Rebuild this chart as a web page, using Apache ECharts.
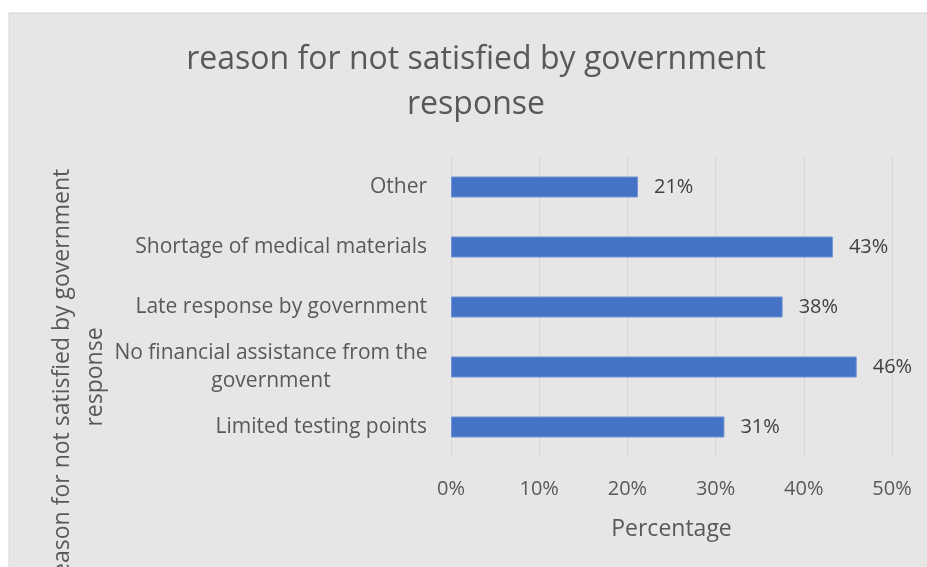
<!DOCTYPE html>
<html>
<head>
<meta charset="utf-8">
<script src="https://cdn.jsdelivr.net/npm/echarts@6/dist/echarts.min.js"></script>
<style>
  html, body { margin: 0; padding: 0; background: #fff; }
  #chart { width: 927px; height: 567px; }
</style>
</head>
<body>
<div id="chart"></div>
<script>
// categories listed bottom to top, like the picture
const categories = [
  'Limited testing points',
  'No financial assistance from the government',
  'Late response by government',
  'Shortage of medical materials',
  'Other'
]
const percentValues = [31.0, 46.0, 37.6, 43.3, 21.2]
const xTicks = [0, 10, 20, 30, 40, 50]

const FONT = 'Open Sans'
const textGrey = '#595959'

const chart = echarts.init(document.getElementById('chart'))
chart.setOption({
  backgroundColor: '#fff',
  animation: false,
  graphic: [
    { // grey chart area
      type: 'rect',
      z: -10,
      shape: { x: 9, y: 13, width: 930, height: 560 },
      style: { fill: '#e6e6e6', stroke: '#d4d4d4', lineWidth: 1 }
    },
    { // chart title
      type: 'text',
      x: 476,
      y: 82,
      style: {
        text: 'reason for not satisfied by government\nresponse',
        fontFamily: FONT,
        fontSize: 32,
        lineHeight: 45,
        fill: textGrey,
        align: 'center',
        verticalAlign: 'middle'
      }
    },
    { // y axis title, cut off at the left as in the picture
      type: 'text',
      x: 79,
      y: 377,
      rotation: Math.PI / 2,
      style: {
        text: 'reason for not satisfied by government\nresponse',
        fontFamily: FONT,
        fontSize: 23,
        lineHeight: 33,
        fill: textGrey,
        align: 'center',
        verticalAlign: 'middle'
      }
    }
  ],
  grid: { left: 451, right: 35, top: 157, bottom: 110 },
  xAxis: {
    type: 'value',
    min: xTicks[0],
    max: xTicks[xTicks.length - 1],
    interval: 10,
    name: 'Percentage',
    nameLocation: 'middle',
    nameGap: 61,
    nameTextStyle: { fontFamily: FONT, fontSize: 23, color: textGrey },
    axisLine: { show: false },
    axisTick: { show: false },
    axisLabel: {
      margin: 22,
      fontFamily: FONT,
      fontSize: 20,
      color: textGrey,
      formatter: v => v + '%'
    },
    splitLine: { lineStyle: { color: '#d6d6d6', width: 1 } }
  },
  yAxis: {
    type: 'category',
    data: categories,
    axisLine: { show: false },
    axisTick: { show: false },
    axisLabel: {
      margin: 24,
      fontFamily: FONT,
      fontSize: 21,
      color: textGrey,
      align: 'right',
      formatter: v => v === 'No financial assistance from the government'
        ? '{c|No financial assistance from the}\n{c|government}' : v,
      rich: {
        c: {
          fontFamily: FONT,
          fontSize: 21,
          color: textGrey,
          width: 312,
          align: 'center',
          lineHeight: 28
        }
      }
    }
  },
  series: [{
    type: 'bar',
    data: percentValues,
    barWidth: 21,
    itemStyle: { color: '#4472c4', borderColor: '#6f93d3', borderWidth: 1 },
    label: {
      show: true,
      position: 'right',
      distance: 16,
      fontFamily: FONT,
      fontSize: 20,
      color: '#404040',
      formatter: p => Math.round(p.value) + '%'
    }
  }]
})
</script>
</body>
</html>
